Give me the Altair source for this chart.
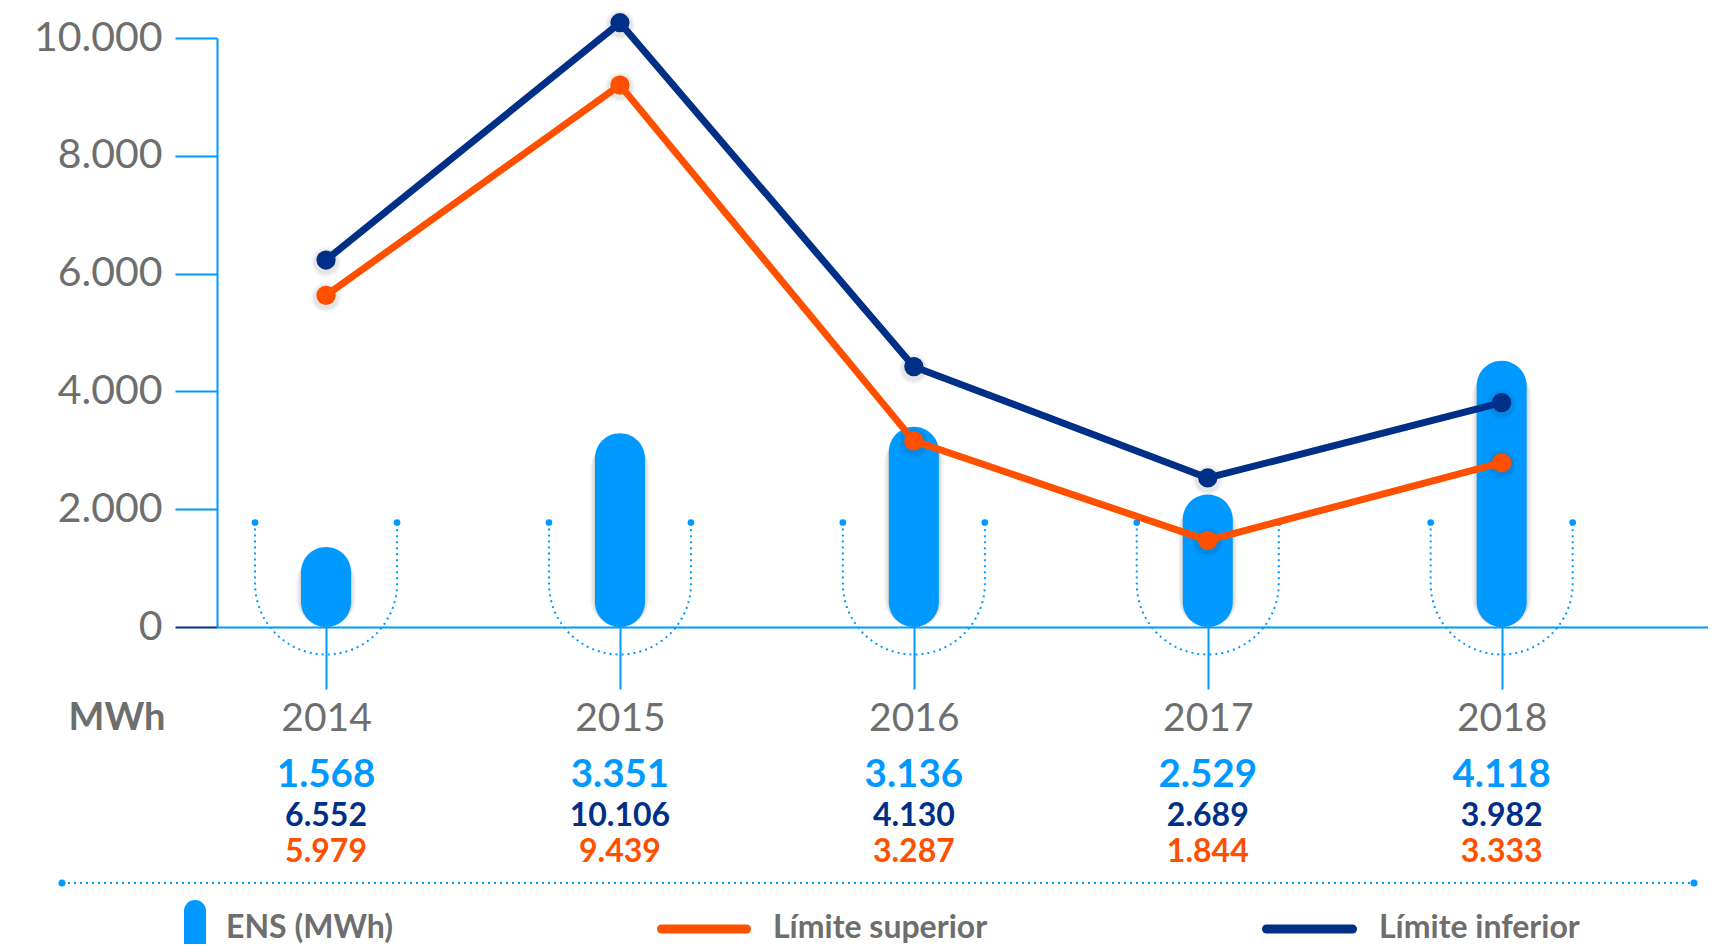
import altair as alt
import pandas as pd

# ---------------- data ----------------
years = [2014, 2015, 2016, 2017, 2018]
# heights as drawn in the picture
ens_plot = [1360, 3290, 3400, 2250, 4520]
inferior_plot = [6230, 10260, 4420, 2530, 3810]
superior_plot = [5630, 9200, 3160, 1470, 2790]
# printed values
ens_labels = ["1.568", "3.351", "3.136", "2.529", "4.118"]
inferior_labels = ["6.552", "10.106", "4.130", "2.689", "3.982"]
superior_labels = ["5.979", "9.439", "3.287", "1.844", "3.333"]
y_ticks = [0, 2000, 4000, 6000, 8000, 10000]
series_names = ["Límite superior", "Límite inferior"]
legend_labels = ["ENS (MWh)", "Límite superior", "Límite inferior"]
unit_label = ["MWh"]

BLUE = "#0099FF"
NAVY = "#002F87"
ORANGE = "#FF5000"
GRAY = "#6E6E6E"
W, H = 1491, 589

bars_df = pd.DataFrame({"year": years, "value": ens_plot})
lines_df = pd.DataFrame({
    "year": years + years,
    "value": superior_plot + inferior_plot,
    "series": [series_names[0]] * len(years) + [series_names[1]] * len(years),
})
years_df = pd.DataFrame({"year": years})
ens_df = pd.DataFrame({"year": years, "label": ens_labels})
inf_df = pd.DataFrame({"year": years, "label": inferior_labels})
sup_df = pd.DataFrame({"year": years, "label": superior_labels})
one = pd.DataFrame({"k": [0]})

xscale = alt.Scale(domain=[2013.629, 2018.702], nice=False, zero=False, padding=0)
yscale = alt.Scale(domain=[0, 10000], nice=False, zero=True, padding=0)

x_axis = alt.Axis(
    values=years, format="d", title=None, grid=False,
    domainColor=BLUE, domainWidth=2, tickColor=BLUE, tickWidth=2, tickSize=62,
    labelFont="Lato", labelFontWeight=400, labelFontSize=39, labelColor=GRAY,
    labelPadding=10, labelFlush=False, labelOverlap=False,
)
y_axis = alt.Axis(
    values=y_ticks, title=None, grid=False,
    labelExpr="replace(format(datum.value, ','), ',', '.')",
    domainColor=BLUE, domainWidth=2,
    tickColor={"condition": {"test": "datum.value === 0", "value": NAVY}, "value": BLUE},
    tickWidth=2, tickSize=42, labelPadding=13,
    labelFont="Lato", labelFontWeight=400, labelFontSize=41, labelColor=GRAY,
)

X = alt.X("year:Q", scale=xscale, axis=x_axis)
Y = alt.Y("value:Q", scale=yscale, axis=y_axis)

U_PATH = "M -1 -0.86 L -1 0 A 1 1 0 0 0 1 0 L 1 -0.86"

u_shape = alt.Chart(years_df).mark_point(
    shape=U_PATH, size=20164, filled=False, stroke=BLUE, strokeWidth=2,
    strokeDash=[2, 4], opacity=1,
).encode(x=X, y=alt.value(545.5))
u_dot_l = alt.Chart(years_df).mark_point(
    filled=True, size=45, color=BLUE, opacity=1, xOffset=-71
).encode(x=X, y=alt.value(484.5))
u_dot_r = alt.Chart(years_df).mark_point(
    filled=True, size=45, color=BLUE, opacity=1, xOffset=71
).encode(x=X, y=alt.value(484.5))

# soft drop shadow under the capsules
bar_shadows = [
    alt.Chart(bars_df).mark_bar(width=w, cornerRadius=w / 2, color="#000000", opacity=op, yOffset=off).encode(
        x=X, y=Y, y2=alt.datum(0)
    )
    for w, op, off in [(60, 0.04, 8), (56, 0.06, 6), (52, 0.08, 4)]
]

bars = alt.Chart(bars_df).mark_bar(width=50, cornerRadius=25, color=BLUE).encode(
    x=X, y=Y, y2=alt.datum(0)
)

point_shadows = [
    alt.Chart(lines_df).mark_point(filled=True, color="#000000", size=s, opacity=op, yOffset=2).encode(x=X, y=Y)
    for s, op in [(900, 0.04), (650, 0.06)]
]

lines = alt.Chart(lines_df).mark_line(
    strokeWidth=7, strokeJoin="round",
    point=alt.OverlayMarkDef(filled=True, size=370, opacity=1),
).encode(
    x=X, y=Y,
    color=alt.Color("series:N", scale=alt.Scale(domain=series_names, range=[ORANGE, NAVY]), legend=None),
    order=alt.Order("year:Q"),
)

ens_txt = alt.Chart(ens_df).mark_text(
    font="Lato", fontWeight="bold", fontSize=38.5, color=BLUE, baseline="middle", align="center"
).encode(x=X, y=alt.value(737), text="label:N")
inf_txt = alt.Chart(inf_df).mark_text(
    font="Lato", fontWeight="bold", fontSize=32, color=NAVY, baseline="middle", align="center"
).encode(x=X, y=alt.value(778), text="label:N")
sup_txt = alt.Chart(sup_df).mark_text(
    font="Lato", fontWeight="bold", fontSize=32, color=ORANGE, baseline="middle", align="center"
).encode(x=X, y=alt.value(814), text="label:N")

unit_txt = alt.Chart(pd.DataFrame({"t": unit_label})).mark_text(
    font="Lato", fontWeight="bold", fontSize=38, color=GRAY, baseline="middle", align="center"
).encode(x=alt.value(-100), y=alt.value(681), text="t:N")

sep = alt.Chart(one).mark_rule(color=BLUE, strokeWidth=2, strokeDash=[2, 4]).encode(
    x=alt.value(-155), x2=alt.value(1477), y=alt.value(845)
)
sep_l = alt.Chart(one).mark_point(filled=True, size=50, color=BLUE, opacity=1).encode(
    x=alt.value(-155), y=alt.value(845)
)
sep_r = alt.Chart(one).mark_point(filled=True, size=50, color=BLUE, opacity=1).encode(
    x=alt.value(1477), y=alt.value(845)
)

leg_ens = alt.Chart(one).mark_rule(color=BLUE, strokeWidth=22, strokeCap="round").encode(
    x=alt.value(-22), y=alt.value(873), y2=alt.value(960)
)
leg_sup = alt.Chart(one).mark_rule(color=ORANGE, strokeWidth=9, strokeCap="round").encode(
    x=alt.value(444.5), x2=alt.value(529.5), y=alt.value(891)
)
leg_inf = alt.Chart(one).mark_rule(color=NAVY, strokeWidth=9, strokeCap="round").encode(
    x=alt.value(1049.5), x2=alt.value(1135.5), y=alt.value(891)
)
leg_txt_df = pd.DataFrame({"t": legend_labels, "px": [9, 556, 1162]})
leg_txt = alt.Chart(leg_txt_df).mark_text(
    font="Lato", fontWeight="bold", fontSize=32, color=GRAY, baseline="middle", align="left"
).encode(x=alt.X("px:Q", scale=None), y=alt.value(889.5), text="t:N")

chart = alt.layer(
    u_shape, u_dot_l, u_dot_r, *bar_shadows, bars, *point_shadows, lines,
    ens_txt, inf_txt, sup_txt, unit_txt,
    sep, sep_l, sep_r, leg_ens, leg_sup, leg_inf, leg_txt,
).properties(
    width=W, height=H,
    autosize=alt.AutoSizeParams(type="none"),
    padding={"left": 209, "top": 30, "right": 0, "bottom": 317},
).configure_view(stroke=None)

chart.save("out.html", embed_options={"renderer": "svg", "actions": False})
